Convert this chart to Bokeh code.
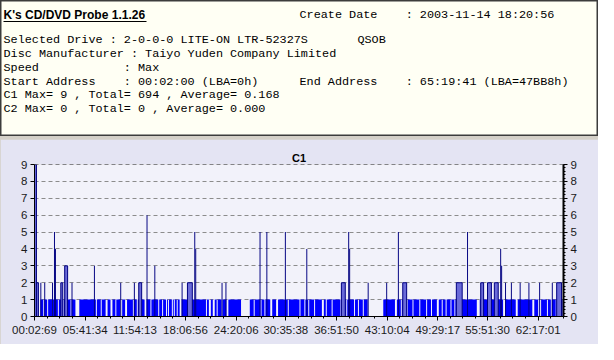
from bokeh.plotting import figure
from bokeh.models import ColumnDataSource, Range1d, LinearAxis, FixedTicker, Span
from bokeh.layouts import column
from bokeh.core.properties import value
from bokeh.embed import file_html
from bokeh.resources import INLINE

# ---------------- data ----------------
report_title = "K's CD/DVD Probe 1.1.26"
info_left = [
    "Selected Drive : 2-0-0-0 LITE-ON LTR-52327S       QSOB",
    "Disc Manufacturer : Taiyo Yuden Company Limited",
    "Speed            : Max",
    "Start Address    : 00:02:00 (LBA=0h)",
    "C1 Max= 9 , Total= 694 , Average= 0.168",
    "C2 Max= 0 , Total= 0 , Average= 0.000",
]
info_right = [
    "Create Date    : 2003-11-14 18:20:56",
    "End Address    : 65:19:41 (LBA=47BB8h)",
]

chart_title = "C1"
x_end = 543          # samples across the disc
y_max = 9
x_tick_pos = [0, 52, 103, 155, 207, 258, 310, 362, 414, 465, 517]
x_tick_labels = ["00:02:69", "05:41:34", "11:54:13", "18:06:56", "24:20:06", "30:35:38",
                 "36:51:50", "43:10:04", "49:29:17", "55:51:30", "62:17:01"]
y_ticks = [0, 1, 2, 3, 4, 5, 6, 7, 8, 9]

# runs of samples with C1 = 1 (start, end exclusive)
base_start = [1, 6, 10, 14, 19, 25, 30, 38, 46, 64, 69, 75, 80, 84, 90, 95, 102, 106, 110, 115,
              120, 128, 132, 136, 138, 142, 144, 147, 151, 177, 181, 185, 188, 193, 199, 221,
              226, 233, 237, 244, 250, 261, 273, 278, 282, 288, 297, 300, 306, 315, 321, 329,
              333, 338, 358, 372, 377, 383, 389, 396, 403, 408, 415, 419, 423, 428, 432, 457,
              483, 496, 513, 520, 527, 531, 536]
base_end = [4, 9, 13, 18, 24, 29, 37, 42, 63, 68, 73, 78, 83, 88, 93, 101, 105, 109, 113, 119,
            127, 131, 135, 137, 141, 143, 146, 149, 176, 179, 183, 187, 192, 197, 212, 225,
            232, 236, 242, 248, 260, 272, 277, 281, 287, 295, 299, 305, 314, 320, 328, 332,
            337, 342, 370, 376, 382, 388, 395, 402, 407, 413, 418, 422, 427, 431, 454, 481,
            494, 511, 517, 526, 530, 535, 542]

# higher C1 values: sample start, sample count, value
spike_start = [0, 2, 6, 10, 18, 20, 21, 27, 31, 38, 61, 88, 102, 107, 115, 123, 151, 157, 164,
               165, 192, 196, 231, 238, 257, 279, 315, 322, 323, 342, 361, 373, 378, 433, 444,
               458, 465, 472, 478, 479, 483, 489, 498, 507, 518, 531, 536]
spike_count = [2, 2, 1, 1, 1, 1, 1, 2, 3, 1, 1, 1, 1, 3, 1, 1, 1, 5, 1,
               1, 1, 1, 1, 1, 1, 1, 4, 1, 1, 1, 1, 1, 4, 6, 1,
               3, 4, 4, 1, 1, 1, 1, 1, 1, 1, 1, 5]
spike_value = [9, 2, 2, 2, 2, 5, 4, 2, 3, 2, 3, 2, 2, 2, 6, 3, 2, 2, 5,
               4, 2, 2, 5, 5, 5, 4, 2, 5, 4, 2, 2, 5, 2, 2, 5,
               2, 2, 2, 4, 3, 2, 2, 2, 2, 2, 2, 2]


def keep_spaces(s):
    # SVG collapses runs of spaces; use no-break spaces so the columns line up
    return s.replace(" ", "\u00a0")


# ---------------- header panel ----------------
W = 598
HDR_H = 136
hdr = figure(frame_width=W, frame_height=HDR_H, x_range=Range1d(0, W),
             y_range=Range1d(HDR_H, 0),
             toolbar_location=None, output_backend="svg", x_axis_type=None, y_axis_type=None,
             min_border=0)
hdr.frame_align = False
hdr.grid.visible = False
hdr.background_fill_color = "#fffff4"
hdr.border_fill_color = "#fffff4"
hdr.outline_line_color = "#3c3c3c"
hdr.outline_line_width = 2

hdr.text(x=[3], y=[14.5], text=[report_title], text_font=value("Liberation Sans"),
         text_font_style="bold", text_font_size="12px", text_baseline="middle",
         text_color="#000000")
hdr.segment(x0=[3], y0=[21], x1=[146], y1=[21], line_color="#000000", line_width=1)

left_src = ColumnDataSource(dict(x=[3] * len(info_left),
                                 y=[39.5, 53, 67.5, 81, 94.6, 108.3],
                                 t=[keep_spaces(s) for s in info_left]))
hdr.text(x="x", y="y", text="t", source=left_src, text_font=value("Liberation Mono"),
         text_font_size="11.8px", text_baseline="middle", text_color="#000000")
right_src = ColumnDataSource(dict(x=[299, 299], y=[14.3, 81],
                                  t=[keep_spaces(s) for s in info_right]))
hdr.text(x="x", y="y", text="t", source=right_src, text_font=value("Liberation Mono"),
         text_font_size="11.8px", text_baseline="middle", text_color="#000000")

# ---------------- chart panel ----------------
p = figure(frame_width=529, frame_height=152, x_range=Range1d(0, x_end),
           y_range=Range1d(0, y_max),
           toolbar_location=None, output_backend="svg", title=chart_title,
           min_border_left=34, min_border_right=35, min_border_top=25, min_border_bottom=28)
p.frame_align = False
p.background_fill_color = "#f2f2fa"
p.border_fill_color = "#e4e4f3"
p.outline_line_color = None
p.title.align = "center"
p.title.text_font = "Liberation Sans"
p.title.text_font_size = "11px"
p.title.text_font_style = "bold"
p.title.text_color = "#000000"
p.title.standoff = 2

# grid
p.xgrid.visible = False
p.ygrid.ticker = FixedTicker(ticks=y_ticks[1:-1])
p.ygrid.grid_line_color = "#8c8c8c"
p.ygrid.grid_line_dash = "4 3"
p.add_layout(Span(location=y_max, dimension="width", line_color="#202020",
                  line_dash="4 3", line_width=1))

# bars at level 1
base_src = ColumnDataSource(dict(left=base_start, right=base_end,
                                 bottom=[0] * len(base_start), top=[1] * len(base_start)))
p.quad(left="left", right="right", bottom="bottom", top="top", source=base_src,
       fill_color="#0000ff", line_color=None)

# higher values
thin = [i for i in range(len(spike_start)) if spike_count[i] == 1]
wide = [i for i in range(len(spike_start)) if spike_count[i] > 1]
thin_src = ColumnDataSource(dict(
    x=[spike_start[i] + 0.5 for i in thin], top=[spike_value[i] for i in thin]))
p.vbar(x="x", width=1, top="top", bottom=0, source=thin_src,
       fill_color="#000080", line_color=None)
wide_src = ColumnDataSource(dict(
    left=[spike_start[i] for i in wide],
    right=[spike_start[i] + spike_count[i] for i in wide],
    top=[spike_value[i] for i in wide]))
p.quad(left="left", right="right", bottom=0, top="top", source=wide_src,
       fill_color="#6a6ad8", line_color="#000080", line_width=1)

# axes
label_font = "Liberation Sans"
xa = p.xaxis[0]
minor = []
for a, b in zip(x_tick_pos[:-1], x_tick_pos[1:]):
    minor += [a + (b - a) * k / 4 for k in range(1, 4)]
step = (x_tick_pos[-1] - x_tick_pos[-2]) / 4
minor += [x_tick_pos[-1] + step * k for k in range(1, 3)]
xa.ticker = FixedTicker(ticks=x_tick_pos, minor_ticks=minor)
xa.major_label_overrides = {t: l for t, l in zip(x_tick_pos, x_tick_labels)}
xa.major_tick_out = 4
xa.major_tick_in = 0
xa.minor_tick_out = 2
xa.minor_tick_in = 0
xa.axis_line_color = "#000000"
xa.major_tick_line_color = "#000000"
xa.minor_tick_line_color = "#000000"
xa.major_label_standoff = 3
xa.major_label_text_font = label_font
xa.major_label_text_font_size = "11.5px"
xa.major_label_text_color = "#1a1a1a"

ya = p.yaxis[0]
ya.ticker = FixedTicker(ticks=y_ticks)
ya.major_tick_out = 4
ya.major_tick_in = 0
ya.minor_tick_line_color = None
ya.axis_line_color = "#000000"
ya.axis_line_width = 1
ya.major_tick_line_color = "#000000"
ya.major_label_standoff = 3
ya.major_label_text_font = label_font
ya.major_label_text_font_size = "11.5px"
ya.major_label_text_color = "#1a1a1a"

ry = LinearAxis(ticker=FixedTicker(ticks=y_ticks,
                                   minor_ticks=[k / 5 for k in range(0, y_max * 5 + 1)]))
ry.major_tick_out = 4
ry.major_tick_in = 0
ry.minor_tick_out = 2
ry.minor_tick_in = 0
ry.axis_line_color = "#000000"
ry.axis_line_width = 2
ry.major_tick_line_color = "#000000"
ry.minor_tick_line_color = "#000000"
ry.major_label_standoff = 3
ry.major_label_text_font = label_font
ry.major_label_text_font_size = "11.5px"
ry.major_label_text_color = "#1a1a1a"
p.add_layout(ry, "right")

layout = column(hdr, p, spacing=3, styles={"background-color": "#d4d0c8"})

open("out.html", "w").write(file_html(layout, INLINE))
